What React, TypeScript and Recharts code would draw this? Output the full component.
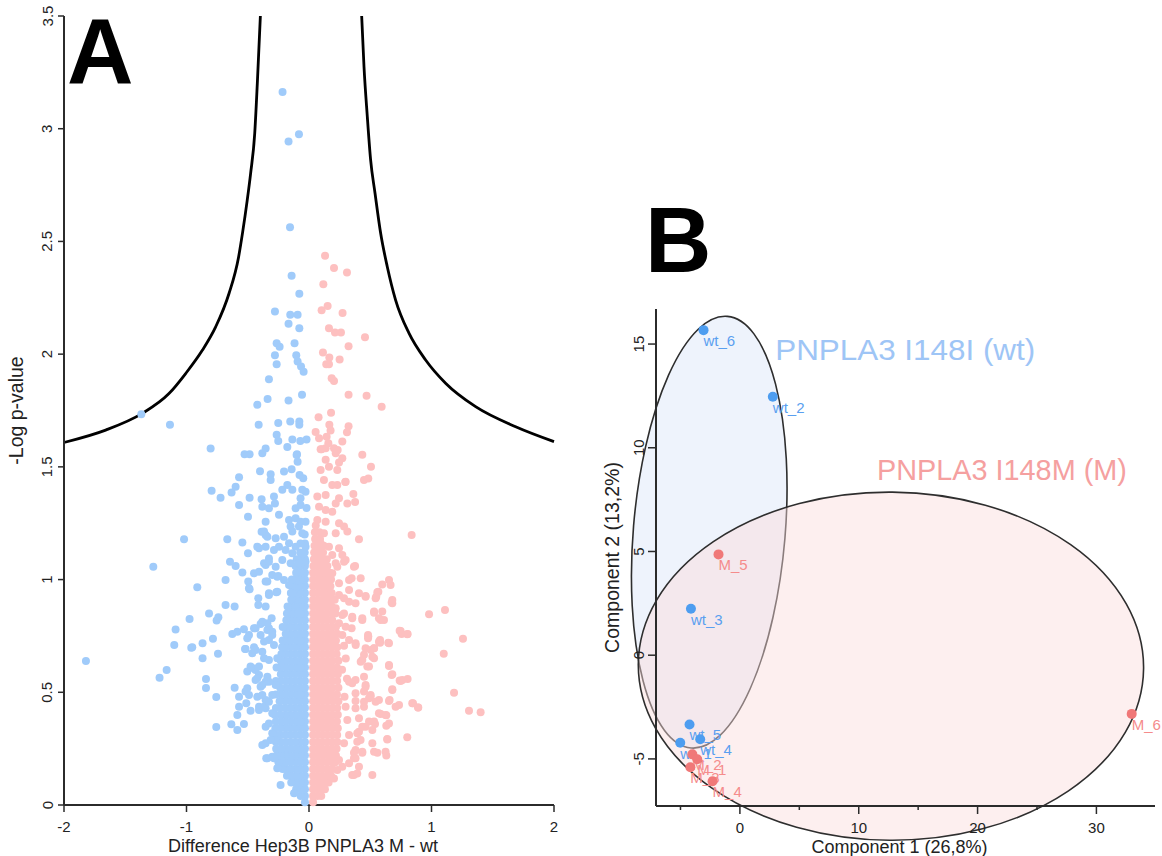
import React from 'react';
import { ComposedChart, Scatter, Line, XAxis, YAxis, ReferenceArea, ReferenceDot, Label } from 'recharts';

const FONT = '"Liberation Sans", Arial, Helvetica, sans-serif';
const AXIS = '#2b2b2b';
const BLUE_LIGHT = '#a0cbfa';
const PINK_LIGHT = '#fdc0c0';

// ---------- Panel A : volcano plot ----------
const volcanoXTicks = [-2, -1, 0, 1, 2];
const volcanoYTicks = [0, 0.5, 1, 1.5, 2, 2.5, 3, 3.5];

const thresholdLeft: number[][] = [
  [-2.0, 1.608], [-1.66, 1.663], [-1.361, 1.737], [-1.143, 1.825], [-1.007, 1.914], [-0.871, 2.017],
  [-0.762, 2.121], [-0.653, 2.269], [-0.575, 2.43], [-0.542, 2.54], [-0.505, 2.68], [-0.477, 2.8],
  [-0.443, 2.98], [-0.422, 3.2], [-0.397, 3.5],
];
const thresholdRight: number[][] = [
  [0.43, 3.5], [0.449, 3.275], [0.476, 3.054], [0.503, 2.862], [0.539, 2.714], [0.585, 2.536],
  [0.639, 2.388], [0.707, 2.24], [0.816, 2.093], [0.952, 1.974], [1.115, 1.871], [1.36, 1.767],
  [1.687, 1.678], [2.0, 1.612],
];

const wtScatter: number[][] = [
  [-0.216, 3.163], [-0.167, 2.943], [-0.082, 2.975], [-0.155, 2.563], [-0.142, 2.348], [-0.079, 2.268],
  [-0.278, 2.189], [-0.153, 2.175], [-0.093, 2.175], [-0.167, 2.135], [-0.079, 2.115], [-0.264, 2.048],
  [-0.24, 2.033], [-0.118, 2.048], [-0.278, 1.995], [-0.104, 1.995], [-0.093, 1.967], [-0.065, 1.945],
  [-0.044, 1.922], [-0.264, 1.955], [-0.327, 1.889], [-0.057, 1.82], [-0.338, 1.801], [-0.167, 1.794],
  [-0.422, 1.775], [-1.369, 1.733], [-1.135, 1.687], [-0.411, 1.687], [-0.251, 1.695], [-0.153, 1.701],
  [-0.079, 1.701], [-0.079, 1.687], [-0.264, 1.642], [-0.251, 1.615], [-0.136, 1.621], [-0.071, 1.615],
  [-0.02, 1.621], [-0.177, 1.588], [-0.098, 1.556], [-0.803, 1.581], [-0.526, 1.556], [-0.485, 1.556],
  [-0.381, 1.56], [-0.354, 1.581], [-0.101, 1.553], [-0.093, 1.523], [-0.4, 1.48], [-0.313, 1.467],
  [-0.313, 1.442], [-0.571, 1.454], [-0.599, 1.412], [-0.632, 1.386], [-0.795, 1.394], [-0.722, 1.363],
  [-0.485, 1.363], [-0.571, 1.331], [-0.498, 1.279], [-0.387, 1.356], [-0.381, 1.323], [-1.02, 1.179],
  [-0.667, 1.179], [-0.544, 1.165], [-0.498, 1.117], [-0.408, 1.139], [-0.387, 1.212], [-0.354, 1.198],
  [-0.204, 1.479], [-0.142, 1.489], [-0.077, 1.464], [-0.047, 1.449], [-0.286, 1.368], [-0.278, 1.338],
  [-0.218, 1.398], [-0.177, 1.42], [-0.136, 1.398], [-0.055, 1.398], [-0.028, 1.39], [-0.069, 1.361],
  [-0.069, 1.331], [-0.109, 1.316], [-0.02, 1.318], [-0.327, 1.316], [-0.245, 1.287], [-0.163, 1.264],
  [-0.109, 1.272], [-0.069, 1.257], [-0.028, 1.257], [-0.15, 1.235], [-0.082, 1.235], [-0.136, 1.213],
  [-0.055, 1.205], [-0.354, 1.257], [-0.367, 1.213], [-0.34, 1.19], [-0.272, 1.183], [-0.204, 1.19],
  [-0.245, 1.146], [-0.163, 1.161], [-0.109, 1.146], [-0.028, 1.146], [-0.286, 1.131], [-0.191, 1.131],
  [-0.136, 1.117], [-0.055, 1.117], [-0.028, 1.079], [-0.082, 1.072], [-0.15, 1.072], [-0.218, 1.087],
  [-0.327, 1.094], [-0.272, 1.057], [-0.367, 1.072], [-0.422, 1.146], [-0.354, 1.146], [-0.645, 1.079],
  [-0.599, 1.06], [-0.544, 1.031], [-0.449, 1.028], [-0.408, 1.035], [-0.496, 0.991], [-0.681, 0.998],
  [-0.912, 0.966], [-0.49, 0.961], [-0.354, 0.991], [-0.3, 1.02], [-0.259, 1.013], [-0.204, 0.998],
  [-0.327, 0.939], [-0.259, 0.946], [-0.163, 0.976], [-0.109, 0.961], [-0.136, 0.939], [-1.271, 1.057],
  [-0.485, 0.957], [-0.354, 1.065], [-0.327, 1.079], [-0.414, 0.917], [-0.414, 0.887], [-0.354, 0.88],
  [-0.327, 0.932], [-0.267, 0.944], [-0.251, 1.016], [-0.34, 0.991], [-0.681, 0.887], [-0.607, 0.88],
  [-0.816, 0.85], [-0.975, 0.825], [-1.089, 0.778], [-1.1, 0.71], [-0.961, 0.698], [-0.869, 0.717],
  [-0.784, 0.738], [-0.74, 0.833], [-0.754, 0.818], [-0.869, 0.651], [-0.743, 0.671], [-0.626, 0.759],
  [-0.585, 0.769], [-0.504, 0.74], [-0.49, 0.754], [-0.436, 0.784], [-0.395, 0.803], [-0.34, 0.776],
  [-0.3, 0.769], [-0.327, 0.732], [-0.286, 0.71], [-0.518, 0.692], [-0.449, 0.7], [-0.381, 0.68],
  [-0.327, 0.643], [-1.821, 0.639], [-1.22, 0.565], [-1.162, 0.599], [-0.841, 0.559], [-0.841, 0.519],
  [-0.757, 0.479], [-0.607, 0.52], [-0.571, 0.48], [-0.504, 0.518], [-0.49, 0.488], [-0.512, 0.451],
  [-0.477, 0.418], [-0.571, 0.436], [-0.585, 0.399], [-0.757, 0.346], [-0.634, 0.358], [-0.585, 0.333],
  [-0.531, 0.359], [-0.436, 0.599], [-0.408, 0.577], [-0.436, 0.555], [-0.395, 0.525], [-0.354, 0.547],
  [-0.422, 0.48], [-0.354, 0.466], [-0.408, 0.436], [-0.354, 0.429], [-0.3, 0.407], [-0.327, 0.362],
  [-0.354, 0.347], [-0.3, 0.318], [-0.272, 0.288], [-0.354, 0.274], [-0.381, 0.266], [-0.34, 0.207],
  [-0.3, 0.214], [-0.232, 0.089], [-0.259, 0.163], [-0.953, 0.7], [-0.504, 0.592], [-0.518, 0.503],
  [-0.449, 0.606], [-0.422, 0.562], [-0.381, 0.532], [-0.381, 0.488], [-0.367, 0.436], [-0.408, 0.421],
  [-0.327, 0.458], [-0.3, 0.488], [-0.272, 0.532], [-0.327, 0.547], [-0.34, 0.569], [-0.531, 0.78],
  [-0.449, 0.784], [-0.436, 0.688], [-0.463, 0.673], [-0.522, 0.692], [-0.395, 0.754], [-0.367, 0.725],
  [-0.327, 0.784], [-0.3, 0.754], [-0.305, 0.828], [-0.34, 0.806], [-0.381, 0.813], [-0.259, 0.651],
  [-0.367, 0.651], [-0.408, 0.614], [-0.477, 0.614], [-0.349, 0.207], [-0.286, 0.207], [-0.313, 0.288],
  [-0.122, 0.052],
];

// rows: [y, x1, x2, ...] of the dense blue mass
const wtCoreRows: number[][] = [
  [0.012, -0.033],
  [0.04, -0.033, -0.068],
  [0.07, -0.033, -0.07, -0.105],
  [0.1, -0.033, -0.072, -0.11, -0.145],
  [0.13, -0.033, -0.07, -0.108, -0.146, -0.18],
  [0.16, -0.033, -0.072, -0.11, -0.15, -0.19, -0.215],
  [0.19, -0.033, -0.07, -0.108, -0.148, -0.188, -0.226, -0.25],
  [0.22, -0.033, -0.072, -0.112, -0.152, -0.192, -0.232, -0.265],
  [0.25, -0.033, -0.07, -0.108, -0.148, -0.188, -0.228, -0.268],
  [0.28, -0.033, -0.072, -0.112, -0.152, -0.192, -0.232, -0.27],
  [0.31, -0.033, -0.07, -0.108, -0.148, -0.19, -0.23, -0.265],
  [0.34, -0.033, -0.072, -0.112, -0.152, -0.192, -0.234, -0.275],
  [0.37, -0.033, -0.07, -0.108, -0.148, -0.188, -0.228, -0.27],
  [0.4, -0.033, -0.072, -0.112, -0.152, -0.192, -0.235, -0.28],
  [0.43, -0.033, -0.07, -0.108, -0.15, -0.19, -0.23, -0.27],
  [0.46, -0.033, -0.072, -0.112, -0.152, -0.195, -0.24],
  [0.49, -0.033, -0.07, -0.108, -0.148, -0.188, -0.228, -0.27],
  [0.52, -0.033, -0.072, -0.112, -0.152, -0.192, -0.235],
  [0.55, -0.033, -0.07, -0.108, -0.148, -0.188, -0.23, -0.27],
  [0.58, -0.033, -0.072, -0.112, -0.152, -0.192, -0.23],
  [0.61, -0.033, -0.07, -0.108, -0.148, -0.188, -0.228, -0.265],
  [0.64, -0.033, -0.072, -0.112, -0.152, -0.192, -0.23],
  [0.67, -0.033, -0.07, -0.108, -0.148, -0.188, -0.225],
  [0.7, -0.033, -0.072, -0.112, -0.152, -0.19, -0.22],
  [0.73, -0.033, -0.07, -0.108, -0.148, -0.186, -0.215],
  [0.76, -0.033, -0.072, -0.112, -0.152, -0.19],
  [0.79, -0.033, -0.07, -0.108, -0.148, -0.185, -0.215],
  [0.82, -0.033, -0.072, -0.112, -0.15, -0.185],
  [0.85, -0.033, -0.07, -0.108, -0.146, -0.18],
  [0.88, -0.033, -0.072, -0.11, -0.148, -0.175],
  [0.91, -0.033, -0.07, -0.108, -0.145],
  [0.94, -0.033, -0.072, -0.11, -0.148],
  [0.97, -0.033, -0.07, -0.106, -0.14],
  [1.0, -0.033, -0.072, -0.11, -0.14],
  [1.03, -0.033, -0.07, -0.105],
  [1.06, -0.033, -0.072, -0.11],
  [1.09, -0.033, -0.068, -0.1],
  [1.12, -0.035, -0.072],
  [1.16, -0.033, -0.07],
  [1.2, -0.035],
];

const mScatter: number[][] = [
  [0.131, 2.436], [0.204, 2.382], [0.31, 2.362], [0.117, 2.31], [0.103, 2.195], [0.152, 2.214],
  [0.274, 2.183], [0.163, 2.115], [0.212, 2.096], [0.261, 2.096], [0.457, 2.075], [0.323, 2.035],
  [0.114, 2.007], [0.166, 1.985], [0.25, 1.976], [0.141, 1.955], [0.163, 1.955], [0.185, 1.893],
  [0.204, 1.881], [0.323, 1.82], [0.47, 1.815], [0.593, 1.767], [0.078, 1.72], [0.18, 1.74],
  [0.166, 1.687], [0.176, 1.661], [0.323, 1.68], [0.31, 1.653], [0.054, 1.655], [0.082, 1.627],
  [0.144, 1.634], [0.158, 1.605], [0.204, 1.583], [0.234, 1.575], [0.272, 1.612], [0.103, 1.578],
  [0.435, 1.554], [0.506, 1.5], [0.449, 1.442], [0.484, 1.448], [0.296, 1.433], [0.362, 1.38],
  [0.376, 1.344], [0.313, 1.338], [0.838, 1.198], [0.408, 1.179], [0.095, 1.578], [0.136, 1.582],
  [0.218, 1.56], [0.136, 1.531], [0.163, 1.501], [0.095, 1.486], [0.245, 1.519], [0.272, 1.538],
  [0.231, 1.486], [0.122, 1.442], [0.19, 1.42], [0.231, 1.42], [0.299, 1.434], [0.068, 1.368],
  [0.136, 1.375], [0.245, 1.361], [0.218, 1.338], [0.082, 1.323], [0.136, 1.309], [0.19, 1.301],
  [0.068, 1.264], [0.136, 1.257], [0.245, 1.25], [0.286, 1.235], [0.122, 1.205], [0.218, 1.205],
  [0.313, 1.213], [0.095, 1.161], [0.163, 1.146], [0.245, 1.139], [0.082, 1.117], [0.19, 1.109],
  [0.272, 1.109], [0.109, 1.072], [0.218, 1.072], [0.299, 1.087], [0.376, 1.06], [0.327, 0.998],
  [0.422, 1.006], [0.19, 1.028], [0.163, 0.976], [0.245, 0.984], [0.327, 0.954], [0.136, 0.932],
  [0.245, 0.932], [0.408, 0.939], [0.462, 0.927], [0.558, 0.944], [0.598, 0.978], [0.653, 0.998],
  [0.666, 0.976], [0.68, 0.909], [0.348, 1.006], [0.367, 1.057], [0.286, 1.079], [0.231, 1.057],
  [0.549, 0.924], [0.566, 0.946], [0.675, 0.898], [0.98, 0.846], [1.11, 0.865], [0.531, 0.853],
  [0.598, 0.858], [0.585, 0.821], [0.435, 0.821], [0.353, 0.828], [0.272, 0.843], [0.245, 0.806],
  [0.299, 0.791], [0.348, 0.784], [0.272, 0.754], [0.327, 0.732], [0.74, 0.773], [0.756, 0.759],
  [0.805, 0.759], [1.257, 0.738], [1.1, 0.671], [0.482, 0.754], [0.482, 0.74], [0.58, 0.732],
  [0.58, 0.72], [0.647, 0.72], [0.531, 0.695], [0.504, 0.688], [0.449, 0.666], [0.435, 0.643],
  [0.531, 0.651], [0.476, 0.614], [0.381, 0.71], [0.286, 0.706], [0.653, 0.617], [0.675, 0.577],
  [0.74, 0.552], [0.762, 0.555], [0.805, 0.559], [1.184, 0.498], [1.306, 0.418], [1.401, 0.411],
  [0.849, 0.451], [0.89, 0.432], [0.68, 0.513], [0.658, 0.466], [0.707, 0.436], [0.571, 0.466],
  [0.503, 0.48], [0.449, 0.503], [0.38, 0.496], [0.353, 0.54], [0.462, 0.532], [0.49, 0.473],
  [0.449, 0.436], [0.38, 0.429], [0.299, 0.436], [0.585, 0.404], [0.631, 0.398], [0.49, 0.37],
  [0.539, 0.359], [0.631, 0.352], [0.435, 0.347], [0.394, 0.318], [0.421, 0.288], [0.517, 0.274],
  [0.639, 0.291], [0.802, 0.3], [0.38, 0.244], [0.367, 0.232], [0.435, 0.232], [0.558, 0.232],
  [0.631, 0.22], [0.38, 0.207], [0.353, 0.133], [0.394, 0.14], [0.517, 0.133], [0.68, 0.895],
  [0.544, 0.917], [0.462, 0.924], [0.38, 0.895], [0.327, 0.902], [0.286, 0.917], [0.218, 0.873],
  [0.286, 0.85], [0.353, 0.835], [0.435, 0.828], [0.531, 0.858], [0.612, 0.821], [0.571, 0.828],
  [0.748, 0.772], [0.802, 0.757], [0.484, 0.747], [0.38, 0.717], [0.462, 0.695], [0.531, 0.695],
  [0.571, 0.724], [0.653, 0.717], [0.517, 0.658], [0.422, 0.636], [0.49, 0.614], [0.653, 0.621],
  [0.68, 0.58], [0.748, 0.55], [0.449, 0.569], [0.38, 0.555], [0.327, 0.547], [0.462, 0.525],
  [0.68, 0.51], [0.503, 0.488], [0.38, 0.461], [0.449, 0.458], [0.544, 0.458], [0.653, 0.461],
  [0.735, 0.444], [0.843, 0.451], [0.892, 0.432], [0.313, 0.377], [0.408, 0.385], [0.462, 0.347],
  [0.531, 0.37], [0.571, 0.407], [0.625, 0.399], [0.653, 0.362], [0.517, 0.333], [0.408, 0.325],
  [0.327, 0.311], [0.286, 0.274], [0.394, 0.281], [0.639, 0.293], [0.435, 0.236], [0.367, 0.207],
  [0.531, 0.236], [0.625, 0.236], [0.245, 0.2], [0.327, 0.185], [0.408, 0.17], [0.367, 0.133],
  [0.204, 0.118], [0.231, 0.155], [0.272, 0.17], [0.27, 0.6], [0.3, 0.65], [0.29, 0.48], [0.31, 0.56],
];

// rows: [y, x1, x2, ...] of the dense pink mass
const mCoreRows: number[][] = [
  [0.012, 0.033],
  [0.04, 0.033, 0.068, 0.1],
  [0.07, 0.033, 0.07, 0.105, 0.13],
  [0.1, 0.033, 0.072, 0.11, 0.145, 0.16],
  [0.13, 0.033, 0.07, 0.108, 0.146, 0.18],
  [0.16, 0.033, 0.072, 0.11, 0.15, 0.19],
  [0.19, 0.033, 0.07, 0.108, 0.148, 0.188, 0.215],
  [0.22, 0.033, 0.072, 0.112, 0.152, 0.19, 0.22],
  [0.25, 0.033, 0.07, 0.108, 0.148, 0.188, 0.225],
  [0.28, 0.033, 0.072, 0.112, 0.152, 0.192, 0.23],
  [0.31, 0.033, 0.07, 0.108, 0.148, 0.19, 0.23],
  [0.34, 0.033, 0.072, 0.112, 0.152, 0.192, 0.235],
  [0.37, 0.033, 0.07, 0.108, 0.148, 0.188, 0.228],
  [0.4, 0.033, 0.072, 0.112, 0.152, 0.192, 0.235],
  [0.43, 0.033, 0.07, 0.108, 0.15, 0.19, 0.23],
  [0.46, 0.033, 0.072, 0.112, 0.152, 0.195, 0.24],
  [0.49, 0.033, 0.07, 0.108, 0.148, 0.188, 0.228],
  [0.52, 0.033, 0.072, 0.112, 0.152, 0.192, 0.24],
  [0.55, 0.033, 0.07, 0.108, 0.148, 0.188, 0.23],
  [0.58, 0.033, 0.072, 0.112, 0.152, 0.192, 0.235],
  [0.61, 0.033, 0.07, 0.108, 0.148, 0.188, 0.228],
  [0.64, 0.033, 0.072, 0.112, 0.152, 0.192, 0.24],
  [0.67, 0.033, 0.07, 0.108, 0.148, 0.188, 0.225],
  [0.7, 0.033, 0.072, 0.112, 0.152, 0.19, 0.23],
  [0.73, 0.033, 0.07, 0.108, 0.148, 0.186, 0.22],
  [0.76, 0.033, 0.072, 0.112, 0.152, 0.19, 0.23],
  [0.79, 0.033, 0.07, 0.108, 0.148, 0.185, 0.22],
  [0.82, 0.033, 0.072, 0.112, 0.15, 0.19],
  [0.85, 0.033, 0.07, 0.108, 0.146, 0.185, 0.215],
  [0.88, 0.033, 0.072, 0.11, 0.148, 0.185],
  [0.91, 0.033, 0.07, 0.108, 0.145, 0.18, 0.21],
  [0.94, 0.033, 0.072, 0.11, 0.148, 0.185],
  [0.97, 0.033, 0.07, 0.106, 0.14, 0.175],
  [1.0, 0.033, 0.072, 0.11, 0.145, 0.18],
  [1.03, 0.033, 0.07, 0.105, 0.14, 0.17],
  [1.06, 0.036, 0.072, 0.11, 0.15],
  [1.09, 0.04, 0.075, 0.11, 0.145],
  [1.12, 0.042, 0.078, 0.115],
  [1.15, 0.045, 0.08, 0.12],
  [1.18, 0.05, 0.09],
  [1.21, 0.048, 0.085],
  [1.24, 0.055],
];

// ---------- Panel B : PCA ----------
const pcaXTicks = [-5, 0, 5, 10, 15, 20, 25, 30];
const pcaYTicks = [-5, 0, 5, 10, 15];
const pcaWtNames = ['wt_6', 'wt_2', 'wt_3', 'wt_5', 'wt_1', 'wt_4'];
const pcaWtC1 = [-3.06, 2.77, -4.12, -4.24, -5.02, -3.34];
const pcaWtC2 = [15.67, 12.46, 2.24, -3.34, -4.22, -4.05];
const pcaMNames = ['M_5', 'M_6', 'M_2', 'M_1', 'M_3', 'M_4'];
const pcaMC1 = [-1.8, 32.97, -4.0, -3.59, -4.17, -2.3];
const pcaMC2 = [4.86, -2.83, -4.78, -5.02, -5.4, -6.08];
// confidence ellipses: centre, semi-axis in x / y units, rotation (deg)
const ellipseWt = { cx: -2.58, cy: 5.93, sx: 6.39, sy: 10.44, angle: 4.8 };
const ellipseM = { cx: 12.71, cy: -0.53, sx: 21.26, sy: 8.39, angle: 0.5 };
const groupLabels = [
  { text: 'PNPLA3 I148I (wt)', x: 2.97, y: 14.23, color: '#9ec5f6', width: 260 },
  { text: 'PNPLA3 I148M (M)', x: 11.53, y: 8.44, color: '#f5a0a0', width: 250 },
];

// ---------- derived tables ----------
const toXY = (arr: number[][]) => arr.map(([x, y]) => ({ x, y }));
const expandRows = (rows: number[][]) => rows.flatMap(([y, ...xs]) => xs.map((x) => [x, y]));
const wtVolcano = toXY([...expandRows(wtCoreRows), ...wtScatter]);
const mVolcano = toXY([...expandRows(mCoreRows), ...mScatter]);
const curveL = toXY(thresholdLeft);
const curveR = toXY(thresholdRight);
const pcaWt = pcaWtNames.map((name, i) => ({ name, x: pcaWtC1[i], y: pcaWtC2[i] }));
const pcaM = pcaMNames.map((name, i) => ({ name, x: pcaMC1[i], y: pcaMC2[i] }));

const fmt = (v: number) => String(v);

const makeXTick = (len: number, minorLen: number, isMajor: (v: number) => boolean) => (props: any) => {
  const { x, y, payload } = props;
  const major = isMajor(payload.value);
  return (
    <g>
      <line x1={x} x2={x} y1={y} y2={y + (major ? len : minorLen)} stroke={AXIS} strokeWidth={1.5} />
      {major && (
        <text x={x} y={y + 27} textAnchor="middle" fontSize={15} fontFamily={FONT} fill="#222">
          {fmt(payload.value)}
        </text>
      )}
    </g>
  );
};

const makeYTick = (len: number) => (props: any) => {
  const { x, y, payload } = props;
  const bx = x - 11.5;
  return (
    <g>
      <line x1={x} x2={x - len} y1={y} y2={y} stroke={AXIS} strokeWidth={1.5} />
      <text x={bx} y={y} transform={`rotate(-90 ${bx} ${y})`} textAnchor="middle" fontSize={15} fontFamily={FONT} fill="#222">
        {fmt(payload.value)}
      </text>
    </g>
  );
};

const xTitle = (text: string) => (props: any) => {
  const vb = props.viewBox;
  return (
    <text x={vb.x + vb.width / 2 - 6} y={vb.y + 47} textAnchor="middle" fontSize={18} fontFamily={FONT} fill="#222">
      {text}
    </text>
  );
};

const yTitle = (text: string, dist: number) => (props: any) => {
  const vb = props.viewBox;
  const bx = vb.x + vb.width - dist;
  const cy = vb.y + vb.height / 2;
  return (
    <text x={bx} y={cy} transform={`rotate(-90 ${bx} ${cy})`} textAnchor="middle" fontSize={19.5} fontFamily={FONT} fill="#222">
      {text}
    </text>
  );
};

const dotShape = (color: string, r: number) => (props: any) => (
  <circle cx={props.cx} cy={props.cy} r={r} fill={color} />
);

const pcaShape = (color: string, labelColor: string) => (props: any) => (
  <g>
    <circle cx={props.cx} cy={props.cy} r={5} fill={color} />
    <text x={props.cx} y={props.cy + 16} fontSize={15} fontFamily={FONT} fill={labelColor}>
      {props.payload.name}
    </text>
  </g>
);

const ellipseShape = (fill: string, opacity: number, angle: number) => (p: any) => {
  const cx = p.x + p.width / 2;
  const cy = p.y + p.height / 2;
  return (
    <ellipse
      cx={cx}
      cy={cy}
      rx={Math.abs(p.width) / 2}
      ry={Math.abs(p.height) / 2}
      fill={fill}
      fillOpacity={opacity}
      stroke="#2e2e2e"
      strokeWidth={1.6}
      transform={`rotate(${angle} ${cx} ${cy})`}
    />
  );
};

const groupLabelShape = (text: string, color: string, width: number) => (p: any) => (
  <text x={p.cx} y={p.cy} fontSize={30} fontFamily={FONT} fill={color} textLength={width} lengthAdjust="spacingAndGlyphs">
    {text}
  </text>
);

function VolcanoPanel() {
  return (
    <ComposedChart width={580} height={856} margin={{ top: 16, right: 26, bottom: 11, left: 24 }}>
      <XAxis
        type="number"
        dataKey="x"
        domain={[-2, 2]}
        ticks={volcanoXTicks}
        interval={0}
        height={40}
        tickSize={0}
        tickMargin={0}
        tickLine={false}
        axisLine={{ stroke: AXIS, strokeWidth: 2 }}
        tick={makeXTick(7, 7, () => true)}
      >
        <Label content={xTitle('Difference Hep3B PNPLA3 M - wt')} />
      </XAxis>
      <YAxis
        type="number"
        dataKey="y"
        domain={[0, 3.5]}
        ticks={volcanoYTicks}
        interval={0}
        width={40}
        tickSize={0}
        tickMargin={0}
        tickLine={false}
        axisLine={{ stroke: AXIS, strokeWidth: 2 }}
        tick={makeYTick(6)}
      >
        <Label content={yTitle('-Log p-value', 41)} />
      </YAxis>
      <Line data={curveL} dataKey="y" type="monotone" stroke="#000" strokeWidth={2.8} dot={false} activeDot={false} isAnimationActive={false} />
      <Line data={curveR} dataKey="y" type="monotone" stroke="#000" strokeWidth={2.8} dot={false} activeDot={false} isAnimationActive={false} />
      <Scatter data={wtVolcano} dataKey="y" shape={dotShape(BLUE_LIGHT, 4)} isAnimationActive={false} />
      <Scatter data={mVolcano} dataKey="y" shape={dotShape(PINK_LIGHT, 4)} isAnimationActive={false} />
    </ComposedChart>
  );
}

function PcaPanel() {
  return (
    <ComposedChart width={582} height={856} margin={{ top: 309, right: 7, bottom: 10, left: 36 }}>
      <XAxis
        type="number"
        dataKey="x"
        domain={[-7.06, 34.93]}
        ticks={pcaXTicks}
        interval={0}
        height={40}
        tickSize={0}
        tickMargin={0}
        tickLine={false}
        axisLine={{ stroke: AXIS, strokeWidth: 2 }}
        tick={makeXTick(8, 4, (v) => v % 10 === 0)}
      >
        <Label content={xTitle('Component 1 (26,8%)')} />
      </XAxis>
      <YAxis
        type="number"
        dataKey="y"
        domain={[-7.27, 16.69]}
        ticks={pcaYTicks}
        interval={0}
        width={40}
        tickSize={0}
        tickMargin={0}
        tickLine={false}
        axisLine={{ stroke: AXIS, strokeWidth: 2 }}
        tick={makeYTick(8)}
      >
        <Label content={yTitle('Component 2 (13,2%)', 37)} />
      </YAxis>
      <ReferenceArea
        x1={ellipseWt.cx - ellipseWt.sx}
        x2={ellipseWt.cx + ellipseWt.sx}
        y1={ellipseWt.cy - ellipseWt.sy}
        y2={ellipseWt.cy + ellipseWt.sy}
        ifOverflow="visible"
        shape={ellipseShape('rgb(205,222,245)', 0.35, ellipseWt.angle)}
      />
      <ReferenceArea
        x1={ellipseM.cx - ellipseM.sx}
        x2={ellipseM.cx + ellipseM.sx}
        y1={ellipseM.cy - ellipseM.sy}
        y2={ellipseM.cy + ellipseM.sy}
        ifOverflow="visible"
        shape={ellipseShape('rgb(251,220,220)', 0.45, ellipseM.angle)}
      />
      {groupLabels.map((g) => (
        <ReferenceDot key={g.text} x={g.x} y={g.y} r={0} ifOverflow="visible" shape={groupLabelShape(g.text, g.color, g.width)} />
      ))}
      <Scatter data={pcaWt} dataKey="y" shape={pcaShape('#4d9df0', '#5a9ff0')} isAnimationActive={false} />
      <Scatter data={pcaM} dataKey="y" shape={pcaShape('#f07878', '#f58c8c')} isAnimationActive={false} />
    </ComposedChart>
  );
}

export default function App() {
  return (
    <div style={{ position: 'absolute', left: 0, top: 0, width: 1162, height: 856, background: '#fff', overflow: 'hidden' }}>
      <div style={{ position: 'absolute', left: 0, top: 0 }}>
        <VolcanoPanel />
      </div>
      <div style={{ position: 'absolute', left: 580, top: 0 }}>
        <PcaPanel />
      </div>
      <svg width={1162} height={856} style={{ position: 'absolute', left: 0, top: 0, pointerEvents: 'none' }}>
        <text x={67} y={83} fontSize={92} fontWeight="bold" fontFamily={FONT} fill="#000">A</text>
        <text x={645} y={272} fontSize={92} fontWeight="bold" fontFamily={FONT} fill="#000">B</text>
      </svg>
    </div>
  );
}
